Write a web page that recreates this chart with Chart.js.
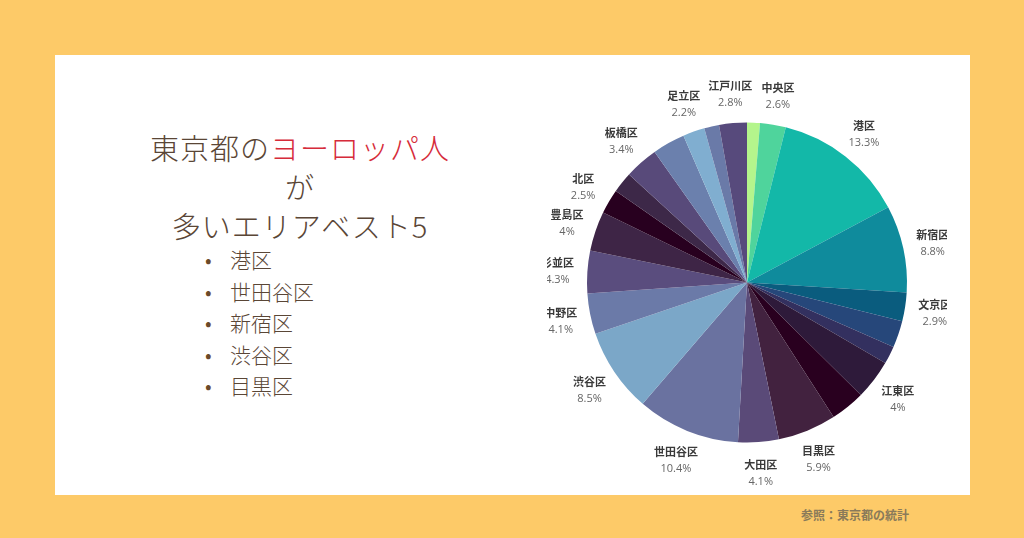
<!DOCTYPE html>
<html>
<head>
<meta charset="utf-8">
<script src="https://cdn.jsdelivr.net/npm/chart.js@4"></script>
<style>
  body { margin: 0; width: 1024px; height: 538px; background: #fdca68; position: relative; overflow: hidden;
         font-family: "Noto Sans CJK JP", sans-serif; }
  #panel { position: absolute; left: 55px; top: 55px; width: 915px; height: 440px; background: #fff; }
  #title { position: absolute; left: 135px; top: 128px; width: 330px; text-align: center; color: #5a4636;
           font-size: 29px; font-weight: 300; line-height: 39px; letter-spacing: 1px; }
  #title span { color: #d62b3a; }
  #list { position: absolute; left: 205px; top: 244px; color: #5a4636; font-size: 21px; font-weight: 300; line-height: 31.5px; }
  #list div::before { content: "•"; display: inline-block; width: 25px; color: #6b4a2a; }
  #src { position: absolute; left: 801px; top: 506px; font-size: 12px; font-weight: bold; color: #8a7a5a; }
  #wrap { position: absolute; left: 547px; top: 70px; width: 400px; height: 425px; }
</style>
</head>
<body>
<div id="panel"></div>
<div id="title">東京都の<span>ヨーロッパ人</span>が<br>多いエリアベスト5</div>
<div id="list"><div>港区</div><div>世田谷区</div><div>新宿区</div><div>渋谷区</div><div>目黒区</div></div>
<div id="src">参照：東京都の統計</div>
<div id="wrap"><canvas id="pie"></canvas></div>
<script>
// slices clockwise from the top
const wards = ["千代田区", "中央区", "港区", "新宿区", "文京区", "台東区", "墨田区", "江東区", "品川区", "目黒区",
  "大田区", "世田谷区", "渋谷区", "中野区", "杉並区", "豊島区", "北区", "荒川区", "板橋区", "練馬区",
  "足立区", "葛飾区", "江戸川区"];
const shares = [1.3, 2.6, 13.3, 8.8, 2.9, 2.7, 1.8, 4, 3.5, 5.9, 4.1, 10.4, 8.5, 4.1, 4.3, 4, 2.5, 2.1, 3.4, 3.3, 2.2, 1.5, 2.8];
const labelled = ["中央区", "港区", "新宿区", "文京区", "江東区", "目黒区", "大田区", "世田谷区", "渋谷区", "中野区",
  "杉並区", "豊島区", "北区", "板橋区", "足立区", "江戸川区"];
const colors = ["#b4f58c", "#4fd49c", "#13b8a8", "#0f8b9c", "#0a5c7e", "#26477a", "#33305f", "#2e1a3a", "#29001f",
  "#42223f", "#5a4a78", "#6a72a0", "#7ba7c8", "#6b7aa8", "#5a4d7e", "#3e2546", "#28001f", "#3d2848",
  "#584a7a", "#6b80ad", "#80aed0", "#6a7aa8", "#574a7c"];

const outsideLabels = {
  id: "outsideLabels",
  afterDatasetsDraw(chart) {
    const ctx = chart.ctx;
    const meta = chart.getDatasetMeta(0);
    ctx.save();
    ctx.textAlign = "center";
    meta.data.forEach((arc, i) => {
      if (!labelled.includes(wards[i])) return;
      const mid = (arc.startAngle + arc.endAngle) / 2;
      const r = arc.outerRadius + 30;
      const x = arc.x + Math.cos(mid) * r;
      const y = arc.y + Math.sin(mid) * r;
      ctx.font = "bold 11px 'Noto Sans CJK JP'";
      ctx.fillStyle = "#3a3a3a";
      ctx.fillText(wards[i], x, y - 3);
      ctx.font = "11px 'Open Sans'";
      ctx.fillStyle = "#666";
      ctx.fillText(shares[i] + "%", x, y + 13);
    });
    ctx.restore();
  }
};

new Chart(document.getElementById("pie"), {
  type: "pie",
  data: { labels: wards, datasets: [{ data: shares, backgroundColor: colors, borderWidth: 0 }] },
  options: {
    responsive: true, maintainAspectRatio: false, animation: false,
    layout: { padding: 40 },
    plugins: { legend: { display: false }, tooltip: { enabled: false } }
  },
  plugins: [outsideLabels]
});
</script>
</body>
</html>
